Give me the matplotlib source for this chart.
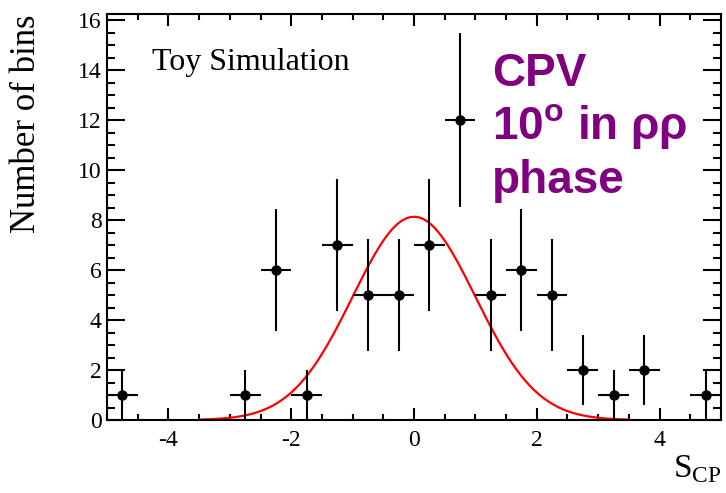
import numpy as np
import matplotlib.pyplot as plt
from matplotlib.ticker import MultipleLocator

plt.rcParams["mathtext.fontset"] = "custom"
plt.rcParams["mathtext.rm"] = "Liberation Sans:bold"
plt.rcParams["mathtext.bf"] = "Liberation Sans:bold"
plt.rcParams["axes.unicode_minus"] = False

# S_CP histogram of toy experiments (bin width 0.5, empty bins left out)
bin_centers = [-4.75, -2.75, -2.25, -1.75, -1.25, -0.75, -0.25, 0.25,
               0.75, 1.25, 1.75, 2.25, 2.75, 3.25, 3.75, 4.75]
counts = [1, 1, 6, 1, 7, 5, 5, 7, 12, 5, 6, 5, 2, 1, 2, 1]
BIN_WIDTH = 0.5

# gaussian fit parameters
FIT_AMP = 8.13
FIT_MEAN = 0.0
FIT_SIGMA = 1.0
FIT_RANGE = (-3.5, 3.5)

X_MIN, X_MAX = -5.0, 5.0
Y_MIN, Y_MAX = 0.0, 16.24

SERIF = "Liberation Serif"

fig = plt.figure(figsize=(7.26, 4.93), dpi=100)
ax = fig.add_axes([0.1474, 0.148, 0.8457, 0.8236])

xc = np.array(bin_centers)
yc = np.array(counts, dtype=float)
ax.errorbar(xc, yc, yerr=np.sqrt(yc), xerr=BIN_WIDTH / 2, fmt="o",
            color="black", ms=6.5, elinewidth=1.5, capsize=0, zorder=3)

xf = np.linspace(*FIT_RANGE, 400)
yf = FIT_AMP * np.exp(-0.5 * ((xf - FIT_MEAN) / FIT_SIGMA) ** 2)
ax.plot(xf, yf, color="red", lw=1.6, zorder=2)

ax.set_xlim(X_MIN, X_MAX)
ax.set_ylim(Y_MIN, Y_MAX)

ax.xaxis.set_major_locator(MultipleLocator(2))
ax.xaxis.set_minor_locator(MultipleLocator(0.5))
ax.yaxis.set_major_locator(MultipleLocator(2))
ax.yaxis.set_minor_locator(MultipleLocator(0.5))

ax.tick_params(axis="both", which="both", direction="in", top=True,
               right=True, width=1.5, colors="black")
ax.tick_params(axis="x", which="major", length=8.6, pad=7)
ax.tick_params(axis="x", which="minor", length=4.3)
ax.tick_params(axis="y", which="major", length=13, pad=4)
ax.tick_params(axis="y", which="minor", length=6)

for lab in ax.get_xticklabels() + ax.get_yticklabels():
    lab.set_family(SERIF)
    lab.set_fontsize(17)

for spine in ax.spines.values():
    spine.set_linewidth(1.5)

ax.set_ylabel("Number of bins", family=SERIF, fontsize=25, loc="top",
              labelpad=25)
ax.set_xlabel(r"S$_{\mathregular{CP}}$", family=SERIF, fontsize=24,
              loc="right", labelpad=2)
ax.xaxis.label.set_math_fontfamily("dejavuserif")

ax.text(0.073, 0.862, "Toy Simulation", transform=ax.transAxes,
        family=SERIF, fontsize=23, va="baseline")

purple_lines = ["CPV", r"10$^{\mathbf{o}}$ in ρρ", "phase"]
purple_y = [0.823, 0.691, 0.559]
for line, yy in zip(purple_lines, purple_y):
    ax.text(0.627, yy, line, transform=ax.transAxes, color="#800080",
            family="Liberation Sans", fontweight="bold", fontsize=33,
            va="baseline")

fig.savefig("out.png", dpi=100)
